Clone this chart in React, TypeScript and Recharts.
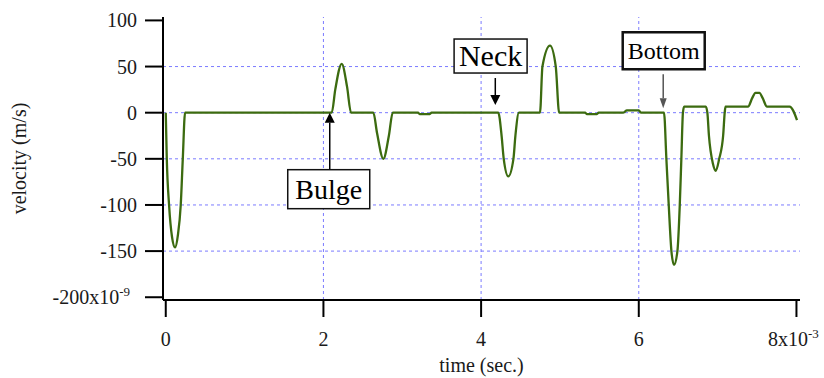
import React from "react";
import { LineChart, Line, XAxis, YAxis, ReferenceLine, ReferenceDot } from "recharts";

// time in ms (axis shows x10^-3 s), velocity in nm/s (axis shows x10^-9 m/s)
const TIME_MS = [
  0, 0.013, 0.042, 0.08, 0.118, 0.155, 0.19, 0.216, 0.245,
  2.105, 2.15, 2.232, 2.3, 2.35,
  2.633, 2.68, 2.76, 2.83, 2.879,
  3.2, 3.22, 3.35, 3.37,
  4.218, 4.26, 4.287, 4.345, 4.41, 4.435, 4.48,
  4.747, 4.778, 4.874, 4.947, 4.99,
  5.32, 5.34, 5.47, 5.49,
  5.8, 5.85, 6.0, 6.03,
  6.32, 6.35, 6.38, 6.414, 6.447, 6.49, 6.52, 6.54, 6.56, 6.575,
  6.85, 6.87, 6.89, 6.94, 6.977, 7.02, 7.07, 7.09, 7.1,
  7.385, 7.44, 7.48, 7.53, 7.57, 7.627,
  7.913, 8.007,
];
const VELOCITY_NMS = [
  0, -50, -100, -135, -146, -132, -100, -50, 0,
  0, 25, 53, 28, 0,
  0, -22, -50, -25, 0,
  0, -1.5, -1.5, 0,
  0, -25, -50, -69, -50, -25, 0,
  0, 50, 72.6, 50, 0,
  0, -1.5, -1.5, 0,
  0, 2.5, 2.5, 0,
  0, -50, -100, -150, -165, -150, -100, -50, 0, 6.5,
  6.5, 0, -25, -55, -63, -50, -25, 0, 6.5,
  6.5, 16, 21.5, 21.5, 16, 6.5,
  6.5, -8,
];

const X_TICKS = [0, 2, 4, 6, 8];
const Y_TICKS = [100, 50, 0, -50, -100, -150, -200];
const X_GRID = [2, 4, 6];
const Y_GRID = [50, 0, -50, -100, -150];

// callouts: label and the point the arrow tip touches
const CALLOUT_LABELS = ["Bulge", "Neck", "Bottom"];
const CALLOUT_TIME = [2.08, 4.18, 6.31];
const CALLOUT_VEL = [0, 8.3, 4.8];

const X_DOMAIN = [-0.035, 8.045];
const Y_DOMAIN = [-203, 103.7];

const FONT = '"Liberation Serif", "Times New Roman", serif';
const INK = "#1a1a1a";
const GRID = "#7b7bff";

const data = TIME_MS.map((t, i) => ({ t, v: VELOCITY_NMS[i] }));

const calloutStyle: Record<string, any> = {
  Bulge: { up: true, dx: -1, gap: 57, w: 82, h: 39, fs: 28, head: 10, color: "#000", border: 1.5 },
  Neck: { up: false, dx: -4.7, gap: 32, w: 73, h: 34, fs: 30, head: 10, color: "#000", border: 1.5 },
  Bottom: { up: false, dx: 0.5, gap: 39, w: 82, h: 37, fs: 24, head: 7, color: "#555", border: 2.5 },
};

function Callout(props: any) {
  const { cx, cy, label } = props;
  const s = calloutStyle[label];
  const bx = cx + s.dx - s.w / 2;
  const headH = 10;
  let by: number, y1: number, y2: number, head: string;
  if (s.up) {
    by = cy + s.gap;
    y1 = cy + headH;
    y2 = by;
    head = `${cx},${cy} ${cx - s.head / 2},${cy + headH} ${cx + s.head / 2},${cy + headH}`;
  } else {
    by = cy - s.gap - s.h;
    y1 = by + s.h + 5;
    y2 = cy - headH;
    head = `${cx},${cy} ${cx - s.head / 2},${cy - headH} ${cx + s.head / 2},${cy - headH}`;
  }
  return (
    <g>
      <line x1={cx} y1={y1} x2={cx} y2={y2} stroke={s.color} strokeWidth={1.5} />
      <polygon points={head} fill={s.color} />
      <rect x={bx} y={by} width={s.w} height={s.h} fill="#fff" stroke="#111" strokeWidth={s.border} />
      <text
        x={bx + s.w / 2}
        y={by + s.h / 2}
        dy="0.34em"
        textAnchor="middle"
        fontFamily={FONT}
        fontSize={s.fs}
        fill="#000"
      >
        {label}
      </text>
    </g>
  );
}

function TimeTick(props: any) {
  const { x, y, payload } = props;
  if (payload.value === 8) {
    return (
      <text x={x - 3} y={y} dy="0.75em" textAnchor="middle" fontFamily={FONT} fontSize={20} fill={INK}>
        8x10
        <tspan dy={-8} fontSize={13}>-3</tspan>
      </text>
    );
  }
  return (
    <text x={x} y={y} dy="0.75em" textAnchor="middle" fontFamily={FONT} fontSize={20} fill={INK}>
      {payload.value}
    </text>
  );
}

function VelocityTick(props: any) {
  const { x, y, payload } = props;
  if (payload.value === -200) {
    return (
      <text x={x - 7} y={y} dy="0.35em" textAnchor="end" fontFamily={FONT} fontSize={20} fill={INK}>
        -200x10
        <tspan dy={-8} fontSize={13}>-9</tspan>
      </text>
    );
  }
  return (
    <text x={x} y={y} dy="0.35em" textAnchor="end" fontFamily={FONT} fontSize={20} fill={INK}>
      {payload.value}
    </text>
  );
}

function VelocityTitle(props: any) {
  const vb = props.viewBox || { x: 0, y: 17, height: 283 };
  const x = vb.x + 19;
  const y = vb.y + vb.height / 2;
  return (
    <text
      x={x}
      y={y}
      dy="0.35em"
      transform={`rotate(-90 ${x} ${y})`}
      textAnchor="middle"
      fontFamily={FONT}
      fontSize={20}
      fill={INK}
    >
      velocity (m/s)
    </text>
  );
}

const frame = { stroke: "#000", strokeWidth: 2 };

export default function App() {
  return (
    <div style={{ position: "absolute", left: 0, top: 0 }}>
      <LineChart width={824} height={378} data={data} margin={{ top: 17, right: 24, bottom: 0, left: 0 }}>
        <XAxis
          type="number"
          dataKey="t"
          domain={X_DOMAIN}
          allowDataOverflow
          ticks={X_TICKS}
          interval={0}
          height={78}
          tickSize={17}
          tickMargin={14}
          axisLine={frame}
          tickLine={frame}
          tick={<TimeTick />}
          label={{ value: "time (sec.)", position: "insideBottom", offset: 6, fill: INK, fontSize: 20, fontFamily: FONT }}
        />
        <XAxis
          xAxisId="top"
          orientation="top"
          type="number"
          dataKey="t"
          domain={X_DOMAIN}
          allowDataOverflow
          height={0}
          tick={false}
          tickLine={false}
          axisLine={frame}
        />
        <YAxis
          type="number"
          domain={Y_DOMAIN}
          allowDataOverflow
          ticks={Y_TICKS}
          interval={0}
          width={163}
          tickSize={18}
          tickMargin={8}
          axisLine={frame}
          tickLine={frame}
          tick={<VelocityTick />}
          label={<VelocityTitle />}
        />
        <YAxis
          yAxisId="right"
          orientation="right"
          type="number"
          domain={Y_DOMAIN}
          allowDataOverflow
          width={0}
          tick={false}
          tickLine={false}
          axisLine={frame}
        />
        {X_GRID.map((t) => (
          <ReferenceLine key={`gx${t}`} x={t} stroke={GRID} strokeDasharray="3 3" strokeWidth={1} />
        ))}
        {Y_GRID.map((v) => (
          <ReferenceLine key={`gy${v}`} y={v} stroke={GRID} strokeDasharray="3 3" strokeWidth={1} />
        ))}
        <Line
          type="monotone"
          dataKey="v"
          stroke="#3c6b10"
          strokeWidth={2.3}
          dot={false}
          isAnimationActive={false}
        />
        {CALLOUT_LABELS.map((label, i) => (
          <ReferenceDot
            key={label}
            x={CALLOUT_TIME[i]}
            y={CALLOUT_VEL[i]}
            shape={(p: any) => <Callout {...p} label={label} />}
          />
        ))}
      </LineChart>
    </div>
  );
}
